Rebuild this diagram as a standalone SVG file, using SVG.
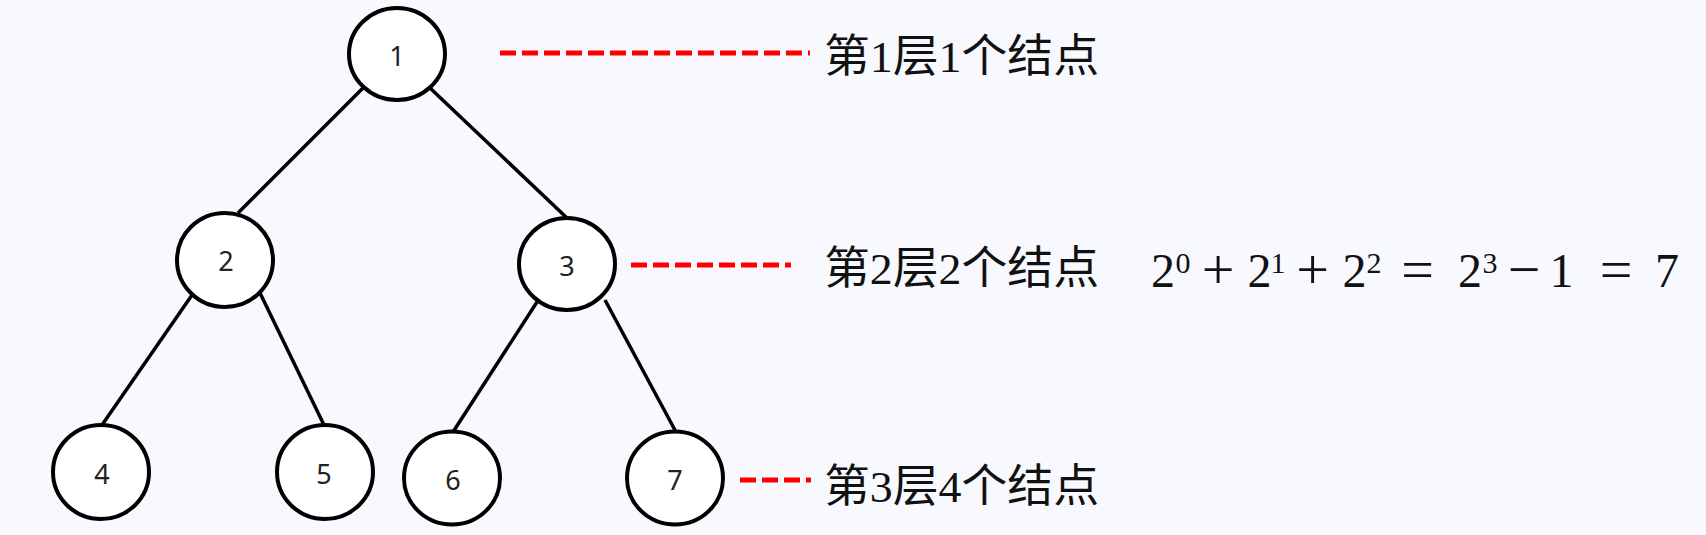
<svg xmlns="http://www.w3.org/2000/svg" width="1706" height="535" viewBox="0 0 1706 535">
<style>
.node ellipse{fill:#fff;stroke:#000;stroke-width:4}
.node text{font-family:"Noto Sans","Liberation Sans",sans-serif;font-size:27px;fill:#222;text-anchor:middle;dominant-baseline:central}
.edge{stroke:#000;stroke-width:3.5;fill:none}
.dash{stroke:#ff0000;stroke-width:5;stroke-dasharray:16 6;fill:none}
.lbl{font-family:"Liberation Serif","Noto Sans CJK SC",serif;font-size:45px;fill:#111}
.f{font-family:"Liberation Serif",serif;font-size:48px;fill:#111;text-anchor:middle}
.o{font-family:"Liberation Serif",serif;font-size:58px;fill:#111;text-anchor:middle}
.s{font-family:"Liberation Serif",serif;font-size:30px;fill:#111;text-anchor:middle}
</style>
<rect width="1706" height="535" fill="#f8f9fe"/>
<g id="connectors">
<line class="edge" x1="363" y1="88" x2="238" y2="213"/>
<line class="edge" x1="430" y1="88" x2="567" y2="218"/>
<line class="edge" x1="192" y1="295" x2="102" y2="425"/>
<line class="edge" x1="260" y1="293" x2="324" y2="425"/>
<line class="edge" x1="537" y1="302" x2="453" y2="432"/>
<line class="edge" x1="605" y1="300" x2="676" y2="432"/>
<line class="dash" x1="500" y1="53" x2="810" y2="53"/>
<line class="dash" x1="631" y1="265" x2="791" y2="265"/>
<line class="dash" x1="740" y1="480" x2="811" y2="480"/>
</g>
<g id="n1" class="node"><ellipse cx="397" cy="54" rx="48" ry="46"/><text x="397" y="55">1</text></g>
<g id="n2" class="node"><ellipse cx="225" cy="260" rx="48" ry="47"/><text x="226" y="260">2</text></g>
<g id="n3" class="node"><ellipse cx="567" cy="264" rx="48" ry="46"/><text x="567" y="265">3</text></g>
<g id="n4" class="node"><ellipse cx="101" cy="472" rx="48" ry="47"/><text x="102" y="473">4</text></g>
<g id="n5" class="node"><ellipse cx="325" cy="472" rx="48" ry="47"/><text x="324" y="473">5</text></g>
<g id="n6" class="node"><ellipse cx="452" cy="478" rx="48" ry="46.5"/><text x="453" y="479">6</text></g>
<g id="n7" class="node"><ellipse cx="675" cy="478" rx="48" ry="46.5"/><text x="675" y="479">7</text></g>
<g id="labels">
<text class="lbl" x="824" y="72" textLength="275" lengthAdjust="spacingAndGlyphs">第1层1个结点</text>
<text class="lbl" x="824" y="284" textLength="275" lengthAdjust="spacingAndGlyphs">第2层2个结点</text>
<text class="lbl" x="824" y="502" textLength="275" lengthAdjust="spacingAndGlyphs">第3层4个结点</text>
</g>
<g id="formula">
<text class="f" x="1163" y="287">2</text><text class="s" x="1183" y="273">0</text>
<text class="o" x="1218" y="289">+</text>
<text class="f" x="1259.5" y="287">2</text><text class="s" x="1278" y="273">1</text>
<text class="o" x="1312.5" y="289">+</text>
<text class="f" x="1354.5" y="287">2</text><text class="s" x="1374" y="273">2</text>
<text class="o" x="1417.5" y="289">=</text>
<text class="f" x="1470" y="287">2</text><text class="s" x="1490" y="273">3</text>
<text class="o" x="1524" y="289">−</text>
<text class="f" x="1561.5" y="287">1</text>
<text class="o" x="1616" y="289">=</text>
<text class="f" x="1667" y="287">7</text>
</g>
</svg>
